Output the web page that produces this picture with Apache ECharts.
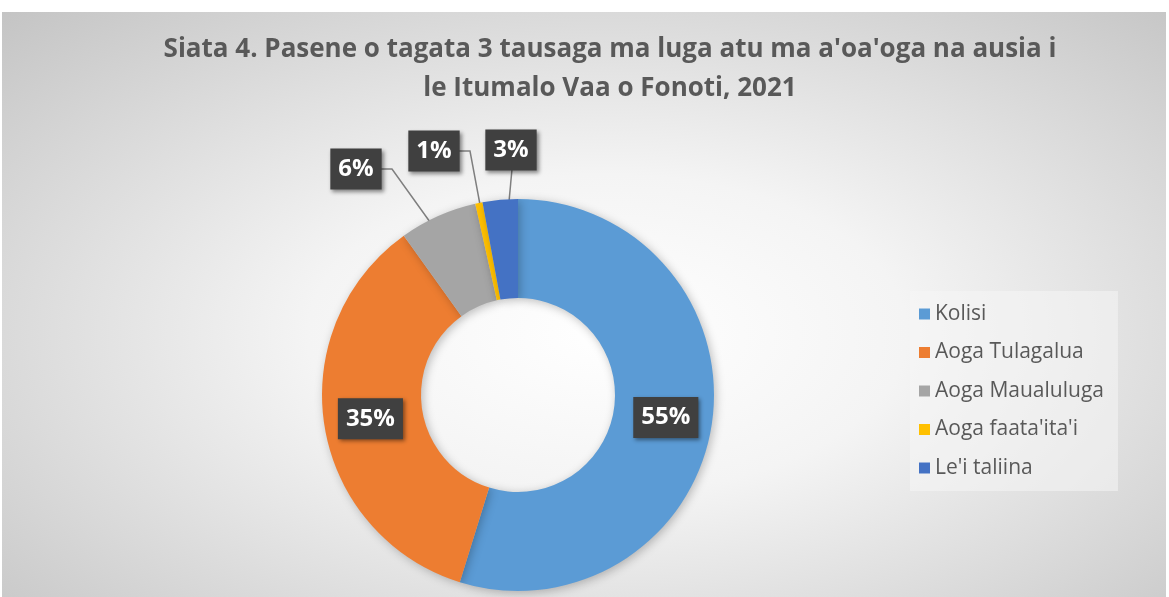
<!DOCTYPE html>
<html>
<head>
<meta charset="utf-8">
<script src="https://cdn.jsdelivr.net/npm/echarts@6/dist/echarts.min.js"></script>
<style>
  html, body { margin: 0; padding: 0; background: #ffffff; }
  #chart {
    position: absolute; left: 2px; top: 12px; width: 1164px; height: 585px;
    background: radial-gradient(ellipse at 52% 55%, #ffffff 0%, #f4f4f4 35%, #c4c4c4 100%);
  }
</style>
</head>
<body>
<div id="chart"></div>
<script>
const categories = ['Kolisi', 'Aoga Tulagalua', 'Aoga Maualuluga', "Aoga faata'ita'i", "Le'i taliina"];
const shares = [54.8, 35.3, 6.4, 0.6, 2.9];
const colors = ['#5B9BD5', '#ED7D31', '#A5A5A5', '#FFC000', '#4472C4'];

// donut geometry (chart coords)
const cx = 516, cy = 383, rIn = 97, rOut = 196;
const ringMid = (rIn + rOut) / 2;
// callout boxes for the thin slices, offsets from the centre
const callouts = {
  2: { box: [-162, -226], line: [[-126, -226], [-137, -226]] },
  3: { box: [-84, -244], line: [[-48, -244], [-59, -244]] },
  4: { box: [-7, -245], line: [[-6, -226]] }
};

const total = shares.reduce((a, b) => a + b, 0);
function midAngle(i) {
  let before = 0;
  for (let k = 0; k < i; k++) before += shares[k];
  return (before + shares[i] / 2) / total * Math.PI * 2;
}
function polar(a, r) {
  return [cx + r * Math.sin(a), cy - r * Math.cos(a)];
}

window.addEventListener('load', function () {
  const myChart = echarts.init(document.getElementById('chart'));

  const data = categories.map(function (name, i) {
    const item = { name: name, value: shares[i], itemStyle: { color: colors[i] } };
    if (callouts[i]) {
      item.label = { position: 'outside' };
      item.labelLine = { show: true };
    }
    return item;
  });

  const option = {
    title: {
      text: "Siata 4. Pasene o tagata 3 tausaga ma luga atu ma a'oa'oga na ausia i\nle Itumalo Vaa o Fonoti, 2021",
      left: 603,
      textAlign: 'center',
      top: 13,
      textStyle: {
        fontFamily: 'Open Sans',
        fontSize: 26,
        fontWeight: 'bold',
        color: '#595959',
        lineHeight: 39
      }
    },
    legend: {
      orient: 'vertical',
      left: 908,
      top: 279,
      padding: [12, 14, 12, 9],
      backgroundColor: 'rgba(245,245,245,0.55)',
      icon: 'rect',
      itemWidth: 11,
      itemHeight: 11,
      itemGap: 16.5,
      data: categories,
      textStyle: { fontFamily: 'Open Sans', fontSize: 21, color: '#595959', lineHeight: 22 }
    },
    series: [
      {
        type: 'pie',
        center: [cx, cy],
        radius: [rIn, rOut],
        startAngle: 90,
        clockwise: true,
        avoidLabelOverlap: false,
        itemStyle: {
          shadowBlur: 10,
          shadowColor: 'rgba(0,0,0,0.25)',
          shadowOffsetX: 2,
          shadowOffsetY: 2
        },
        label: {
          show: true,
          position: 'inside',
          formatter: function (p) { return Math.round(p.value) + '%'; },
          fontFamily: 'Open Sans',
          fontSize: 24,
          fontWeight: 'bold',
          color: '#ffffff',
          backgroundColor: '#404040',
          padding: [8, 8, 8, 8],
          lineHeight: 25,
          shadowBlur: 4,
          shadowColor: 'rgba(0,0,0,0.45)',
          shadowOffsetX: 2,
          shadowOffsetY: 2
        },
        labelLine: {
          show: false,
          lineStyle: { color: '#7f7f7f', width: 1.5 }
        },
        labelLayout: function (p) {
          const c = callouts[p.dataIndex];
          if (!c) return {};
          const start = polar(midAngle(p.dataIndex), ringMid);
          const pts = [start].concat(c.line.map(function (d) { return [cx + d[0], cy + d[1]]; }));
          return {
            x: cx + c.box[0],
            y: cy + c.box[1],
            align: 'center',
            verticalAlign: 'middle',
            labelLinePoints: pts
          };
        },
        data: data
      }
    ]
  };

  myChart.setOption(option);
  window.addEventListener('resize', function () { myChart.resize(); });
});
</script>
</body>
</html>
